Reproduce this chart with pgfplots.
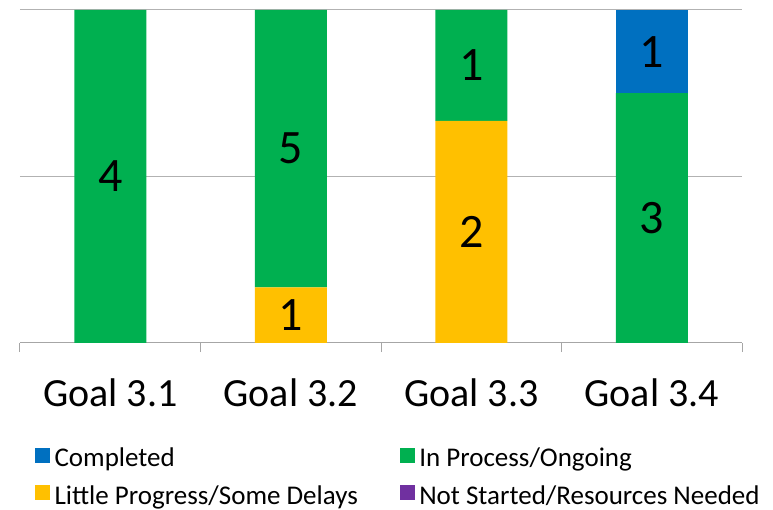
\documentclass[border=0pt]{standalone}
\usepackage{pgfplots}
\pgfplotsset{compat=1.18}
\usepackage{pgfplotstable}
\usepackage{fontspec}
\setmainfont{Carlito}

\definecolor{cdone}{HTML}{0070C0}
\definecolor{cproc}{HTML}{00B050}
\definecolor{cslow}{HTML}{FFC000}
\definecolor{cnone}{HTML}{7030A0}

% share of each goal in percent of the bar, and the count written on it
\pgfplotstableread{
x  slow   slown  proc   procn  done  donen
0  0      0      100    4      0     0
1  16.67  1      83.33  5      0     0
2  66.67  2      33.33  1      0     0
3  0      0      75     3      25    1
}\goals

\def\zerometa{0}
\pgfplotsset{sqlegend/.style={legend image code/.code={\fill[#1] (0pt,-4pt) rectangle (14pt,10pt);}}}

\begin{document}
\begin{tikzpicture}
\begin{axis}[
  scale only axis, width=722pt, height=333pt,
  ybar stacked, bar width=72pt,
  xmin=-0.5, xmax=3.5, ymin=0, ymax=100,
  axis x line*=bottom, axis y line*=left,
  x axis line style={draw=black!35, line width=1pt},
  y axis line style={draw=none},
  xtick={0,1,2,3},
  xticklabels={Goal 3.1, Goal 3.2, Goal 3.3, Goal 3.4},
  minor xtick={-0.5,0.5,1.5,2.5,3.5},
  major tick length=0pt, minor tick length=9pt,
  tick align=outside,
  minor tick style={draw=black!35, line width=1pt},
  xticklabel style={font=\fontsize{40}{42}\selectfont, anchor=base, yshift=-64pt},
  ytick={0,50,100}, yticklabels={},
  ymajorgrids, major grid style={draw=black!30, line width=1pt},
  point meta=explicit symbolic,
  nodes near coords={\ifx\pgfplotspointmeta\zerometa\else\pgfplotspointmeta\fi},
  every node near coord/.append style={font=\fontsize{48}{50}\selectfont, anchor=center},
  legend columns=2, legend cell align=left,
  legend style={at={(axis description cs:0,0)}, anchor=north west, xshift=12pt, yshift=-101pt,
    draw=none, fill=none, font=\fontsize{27}{29}\selectfont, row sep=13pt,
    /tikz/every odd column/.append style={column sep=3pt},
    /tikz/every even column/.append style={column sep=40pt}},
  clip=false,
]
\addplot[forget plot, fill=cslow, draw=none] table[x=x, y=slow, meta=slown] {\goals};
\addplot[forget plot, fill=cproc, draw=none] table[x=x, y=proc, meta=procn] {\goals};
\addplot[forget plot, fill=cdone, draw=none] table[x=x, y=done, meta=donen] {\goals};

\addlegendimage{sqlegend=cdone}\addlegendentry{Completed}
\addlegendimage{sqlegend=cproc}\addlegendentry{In Process/Ongoing}
\addlegendimage{sqlegend=cslow}\addlegendentry{Little Progress/Some Delays}
\addlegendimage{sqlegend=cnone}\addlegendentry{Not Started/Resources Needed}

\path (rel axis cs:0,0) ++(-20pt,-167pt) rectangle (rel axis cs:1,1) ++(31pt,10pt);
\end{axis}
\end{tikzpicture}
\end{document}
